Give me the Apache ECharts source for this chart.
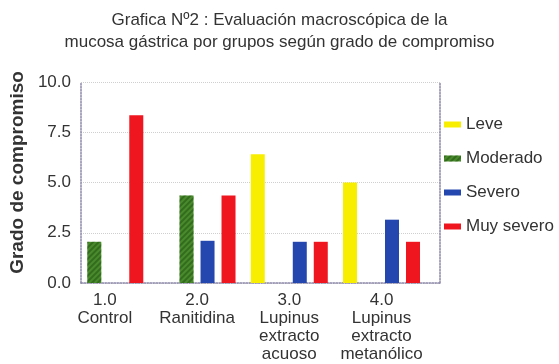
<!DOCTYPE html>
<html>
<head>
<meta charset="utf-8">
<script src="https://cdn.jsdelivr.net/npm/echarts@6/dist/echarts.min.js"></script>
<style>html,body{margin:0;padding:0;background:#fff;}#c{width:559px;height:364px;}</style>
</head>
<body>
<div id="c"></div>
<script>
var groups = [1, 2, 3, 4];
var groupLabels = ['1.0\nControl', '2.0\nRanitidina', '3.0\nLupinus\nextracto\nacuoso', '4.0\nLupinus\nextracto\nmetanólico'];
var seriesNames = ['Leve', 'Moderado', 'Severo', 'Muy severo'];
var leve = [null, null, 6.4, 5.0];
var moderado = [2.05, 4.35, null, null];
var severo = [null, 2.1, 2.05, 3.15];
var muySevero = [8.35, 4.35, 2.05, 2.05];

var colors = ['#f7ee00', '#4a8a2c', '#2347ae', '#ef1620'];
var FONT = '"Liberation Sans", Arial, sans-serif';
var values = [leve, moderado, severo, muySevero];

function pairs(arr) {
  return groups.map(function (g, i) { return [g, arr[i]]; });
}

var series = seriesNames.map(function (name, k) {
  var s = {
    name: name,
    type: 'bar',
    barWidth: 14,
    barGap: '50%',
    data: pairs(values[k]),
    itemStyle: { color: colors[k] }
  };
  if (k === 1) {
    s.itemStyle.decal = {
      symbol: 'rect',
      color: 'rgba(20,70,10,0.45)',
      dashArrayX: [1, 0],
      dashArrayY: [2, 2],
      rotation: -Math.PI / 4
    };
  }
  return s;
});

var chart = echarts.init(document.getElementById('c'));
chart.setOption({
  backgroundColor: '#ffffff',
  animation: false,
  title: {
    text: 'Grafica Nº2 : Evaluación macroscópica de la\nmucosa gástrica por grupos según grado de compromiso',
    left: 'center',
    top: 4,
    padding: [5, 12, 5, 5],
    textStyle: { fontFamily: FONT, fontSize: 17, fontWeight: 'normal', color: '#333', lineHeight: 22 }
  },
  legend: {
    orient: 'vertical',
    left: 439,
    top: 111,
    icon: 'rect',
    itemWidth: 17,
    itemHeight: 6,
    itemGap: 17,
    data: seriesNames,
    textStyle: { fontFamily: FONT, fontSize: 17, color: '#333' }
  },
  grid: { left: 78, right: 119, top: 82, bottom: 81 },
  xAxis: {
    type: 'value',
    min: 0.742,
    max: 4.634,
    splitLine: { show: false },
    axisTick: { show: false },
    axisLine: { show: true, lineStyle: { color: '#8a86a8', type: 'dotted', width: 1.5 } },
    axisLabel: {
      customValues: groups,
      formatter: function (v) { return groupLabels[groups.indexOf(Math.round(v))] || ''; },
      fontFamily: FONT, fontSize: 17, color: '#333', lineHeight: 18, margin: 8
    }
  },
  yAxis: [{
    type: 'value',
    min: 0,
    max: 10,
    interval: 2.5,
    name: 'Grado de compromiso',
    nameLocation: 'middle',
    nameGap: 50,
    nameTextStyle: { fontFamily: FONT, fontSize: 19, fontWeight: 'bold', color: '#333', padding: [0, 0, 0, 20] },
    axisLine: { show: true, lineStyle: { color: '#8a86a8', type: 'dotted', width: 1.5 } },
    axisTick: { show: false },
    splitLine: { show: true, lineStyle: { color: '#cfcfcf', type: 'dotted', width: 1 } },
    axisLabel: {
      fontFamily: FONT, fontSize: 17, color: '#333', margin: 10,
      formatter: function (v) { return v.toFixed(1); }
    }
  }, {
    type: 'value',
    position: 'right',
    min: 0,
    max: 10,
    interval: 2.5,
    axisLine: { show: true, lineStyle: { color: '#8a86a8', type: 'dotted', width: 1.5 } },
    axisTick: { show: false },
    axisLabel: { show: false },
    splitLine: { show: false }
  }],
  series: series
});
</script>
</body>
</html>
